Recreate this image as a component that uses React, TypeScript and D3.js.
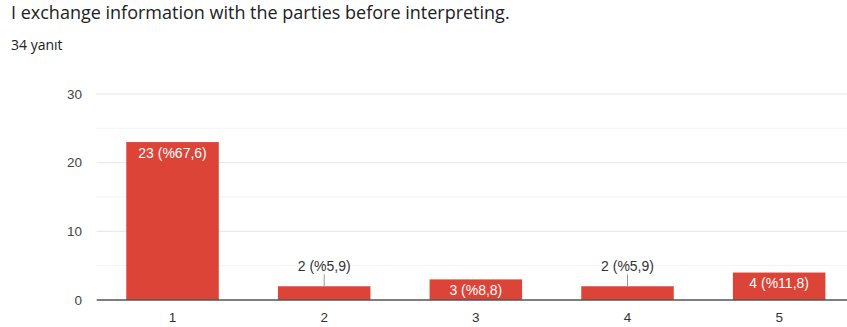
import React from "react";
import * as d3 from "d3";

const categories = ["1", "2", "3", "4", "5"];
const counts = [23, 2, 3, 2, 4];
const percentLabels = ["%67,6", "%5,9", "%8,8", "%5,9", "%11,8"];
const yTicks = [0, 10, 20, 30];
const yMinorTicks = [5, 15, 25];

const W = 847;
const H = 327;
const TITLE_FONT = "'Open Sans', Roboto, Arial, sans-serif";
const FONT = "'Liberation Sans', Arial, Helvetica, sans-serif";
const BAR = "#db4437";

export default function App() {
  const margin = { left: 96.7, right: -8, top: 94, bottom: 27 };
  const x = d3
    .scaleBand<string>()
    .domain(categories)
    .range([margin.left, W - margin.right])
    .paddingInner(0.39)
    .paddingOuter(0.195);
  const y = d3.scaleLinear().domain([0, 30]).range([H - margin.bottom, margin.top]);

  return (
    <svg
      width={W}
      height={H}
      style={{ position: "absolute", left: 0, top: 0, background: "#fff" }}
      fontFamily={FONT}
    >
      <text x={11} y={19} fontSize={18} fill="#202124" fontFamily={TITLE_FONT}>
        I exchange information with the parties before interpreting.
      </text>
      <text x={11} y={50} fontSize={14} fill="#202124" fontFamily={TITLE_FONT}>
        34 yanıt
      </text>

      {yMinorTicks.map((t) => (
        <line key={"m" + t} x1={margin.left} x2={W} y1={y(t)} y2={y(t)} stroke="#f3f3f3" />
      ))}
      {yTicks.map((t) => (
        <g key={t}>
          {t > 0 && (
            <line x1={margin.left} x2={W} y1={y(t)} y2={y(t)} stroke="#e6e6e6" />
          )}
          <text x={82} y={y(t)} dy="0.35em" textAnchor="end" fontSize={13.5} fill="#444">
            {t}
          </text>
        </g>
      ))}

      {counts.map((v, i) => {
        const c = categories[i];
        const bx = x(c)!;
        const bw = x.bandwidth();
        const top = y(v);
        const h = y(0) - top;
        const label = `${v} (${percentLabels[i]})`;
        const inside = h >= 18;
        return (
          <g key={c}>
            <rect x={bx} y={top} width={bw} height={h} fill={BAR} />
            {inside ? (
              <text
                x={bx + bw / 2}
                y={top + 11}
                dy="0.35em"
                textAnchor="middle"
                fontSize={14}
                fill="#fff"
              >
                {label}
              </text>
            ) : (
              <g>
                <line
                  x1={bx + bw / 2}
                  x2={bx + bw / 2}
                  y1={top}
                  y2={top - 12}
                  stroke="#999"
                />
                <text
                  x={bx + bw / 2}
                  y={top - 20}
                  dy="0.35em"
                  textAnchor="middle"
                  fontSize={14}
                  fill="#333"
                >
                  {label}
                </text>
              </g>
            )}
            <text
              x={bx + bw / 2}
              y={y(0) + 17}
              dy="0.35em"
              textAnchor="middle"
              fontSize={13.5}
              fill="#333"
            >
              {c}
            </text>
          </g>
        );
      })}

      <line x1={margin.left} x2={W} y1={y(0)} y2={y(0)} stroke="#555" strokeWidth={1.3} />
    </svg>
  );
}
